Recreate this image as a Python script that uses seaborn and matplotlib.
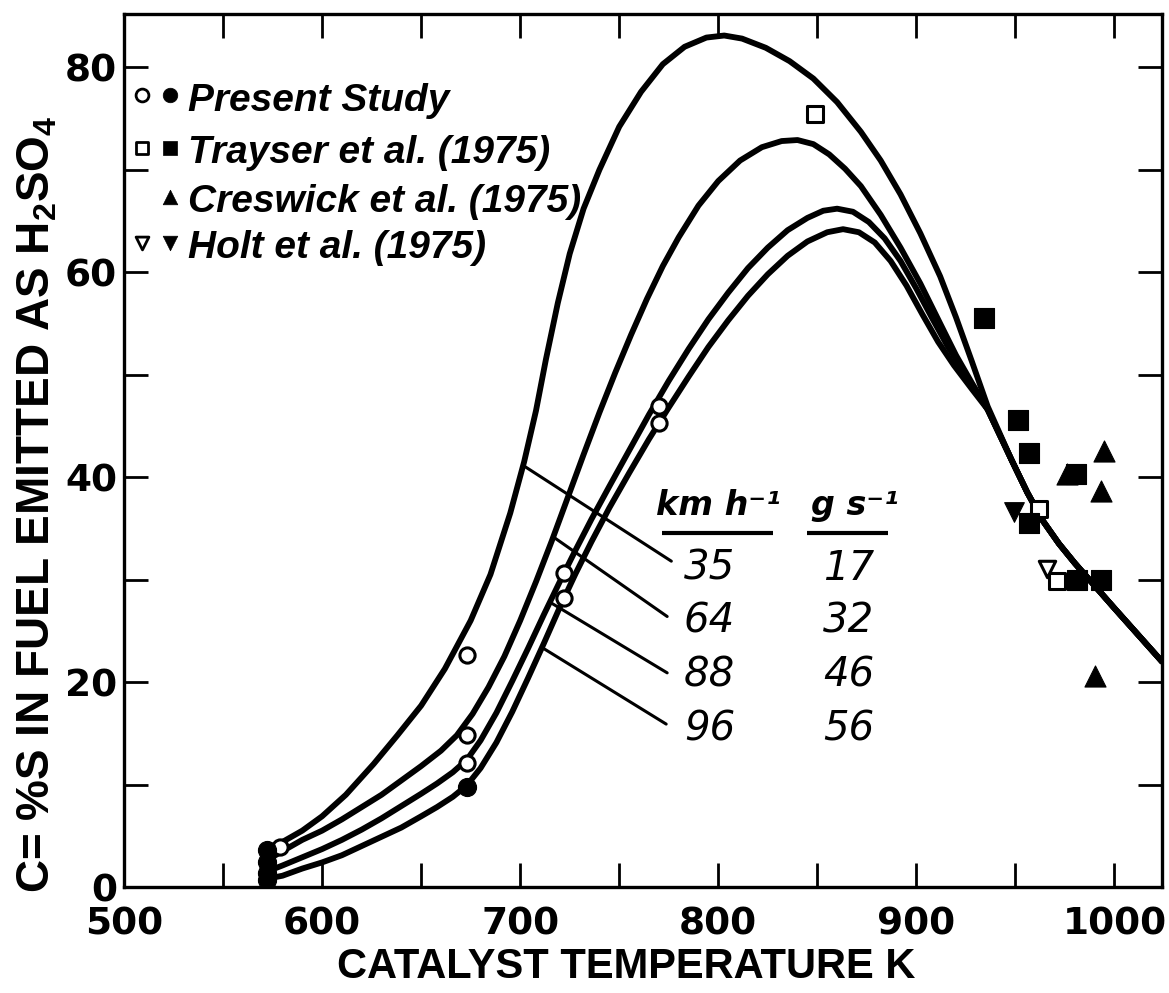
import numpy as np
import pandas as pd
import matplotlib
matplotlib.use("Agg")
import matplotlib.pyplot as plt
import seaborn as sns

# ---------------- data ----------------
# model curves (catalyst temperature K, % S emitted as H2SO4)
T_35 = [572, 580, 590, 600, 612, 626, 638, 650, 662, 675, 685, 695, 702, 708, 713, 719, 725, 732, 740, 750,
        761, 772, 783, 794, 803, 812, 824, 836, 848, 860, 872, 882, 892, 902, 912, 920, 928, 936]
C_35 = [3.5, 4.4, 5.5, 6.9, 9.0, 12.0, 14.8, 17.7, 21.3, 26.0, 30.5, 36.5, 41.5, 46.5, 51.5, 57.0, 61.8, 66.2, 70.0, 74.2,
        77.6, 80.3, 82.0, 82.9, 83.1, 82.8, 81.9, 80.6, 78.9, 76.6, 73.7, 70.9, 67.6, 63.8, 59.6, 55.6, 51.3, 46.9]
T_64 = [572, 580, 590, 600, 610, 620, 630, 640, 650, 660, 668, 676, 684, 692, 700, 708, 716, 724, 732, 740, 748,
        756, 764, 772, 780, 790, 800, 811, 822, 832, 840, 848, 856, 864, 872, 882, 892, 902, 912, 920, 928, 936]
C_64 = [2.6, 3.5, 4.6, 5.5, 6.6, 7.8, 9.0, 10.4, 11.8, 13.3, 14.8, 16.9, 19.5, 22.5, 26.0, 29.8, 33.8, 38.0, 42.2, 46.3, 50.2,
        53.9, 57.4, 60.6, 63.4, 66.5, 68.9, 70.9, 72.2, 72.8, 72.9, 72.5, 71.5, 70.1, 68.4, 65.6, 62.4, 58.9, 55.0, 51.9, 49.2, 46.6]
T_88 = [572, 580, 590, 600, 610, 620, 630, 640, 650, 658, 666, 673, 680, 688, 696, 704, 712, 720, 728, 736, 745,
        755, 765, 775, 785, 795, 805, 815, 825, 835, 845, 853, 860, 868, 876, 884, 892, 900, 908, 916, 926, 936]
C_88 = [1.5, 2.1, 2.9, 3.7, 4.6, 5.6, 6.7, 7.9, 9.1, 10.1, 11.2, 12.4, 14.3, 17.0, 20.1, 23.3, 26.6, 29.8, 32.9, 35.9, 39.1,
        42.6, 46.1, 49.4, 52.5, 55.4, 58.0, 60.4, 62.4, 64.1, 65.3, 66.0, 66.2, 65.9, 64.9, 63.3, 61.1, 58.4, 55.5, 52.7, 49.7, 46.6]
T_96 = [572, 580, 590, 600, 610, 620, 630, 640, 650, 658, 666, 673, 680, 688, 696, 704, 712, 720, 728, 736, 745,
        755, 765, 775, 785, 795, 805, 815, 825, 835, 845, 855, 863, 871, 879, 887, 895, 903, 911, 919, 928, 936]
C_96 = [0.8, 1.1, 1.8, 2.4, 3.1, 4.0, 4.9, 5.8, 6.9, 7.8, 8.8, 9.9, 11.6, 14.1, 17.1, 20.4, 23.8, 27.3, 30.6, 33.7, 37.0,
        40.4, 43.7, 46.8, 49.8, 52.7, 55.3, 57.7, 59.8, 61.6, 63.0, 63.9, 64.2, 63.9, 62.9, 61.1, 58.7, 55.9, 53.2, 50.9, 48.6, 46.6]
# common high-temperature branch
TAIL_T = [948, 956, 964, 972, 980, 990, 1000, 1012, 1024]
TAIL_C = [41.7, 38.5, 35.7, 33.5, 31.6, 29.4, 27.2, 24.6, 22.0]

SPEED_KMH = ["35", "64", "88", "96"]
FLOW_GS = ["17", "32", "46", "56"]

# measured points
PS_OPEN_T = [579, 673, 673, 673, 722, 722, 770, 770]
PS_OPEN_C = [3.9, 22.6, 14.8, 12.1, 30.6, 28.2, 46.9, 45.3]
PS_FILL_T = [572, 572, 572, 572, 673]
PS_FILL_C = [3.6, 2.4, 1.4, 0.7, 9.8]
TR_OPEN_T = [849, 962, 971]
TR_OPEN_C = [75.4, 36.9, 29.9]
TR_FILL_T = [934, 951.5, 957, 957, 980.5, 981, 993]
TR_FILL_C = [55.5, 45.6, 42.4, 35.5, 40.3, 30.0, 30.0]
CR_FILL_T = [976, 994.5, 993, 990]
CR_FILL_C = [40.3, 42.6, 38.6, 20.6]
HO_OPEN_T = [966]
HO_OPEN_C = [31.0]
HO_FILL_T = [949.5]
HO_FILL_C = [36.6]

LEGEND_LABELS = ["Present Study", "Trayser et al. (1975)", "Creswick et al. (1975)", "Holt et al. (1975)"]

# ---------------- style ----------------
sns.set_theme(style="ticks")
plt.rcParams["font.family"] = ["DejaVu Sans"]
plt.rcParams["text.color"] = "black"
plt.rcParams["axes.labelcolor"] = "black"
plt.rcParams["mathtext.fontset"] = "custom"
plt.rcParams["mathtext.rm"] = "Liberation Sans:bold"
plt.rcParams["mathtext.default"] = "rm"

LIB = ["Liberation Sans", "DejaVu Sans"]

fig = plt.figure(figsize=(11.69, 9.93), dpi=100)
ax = fig.add_axes([124 / 1169, 1 - 887 / 993, 1038 / 1169, 873 / 993])

# ---------------- curves ----------------
curves = {"35": (T_35, C_35), "64": (T_64, C_64), "88": (T_88, C_88), "96": (T_96, C_96)}
frames = []
for name, (tt, cc) in curves.items():
    frames.append(pd.DataFrame({"T": list(tt) + TAIL_T, "C": list(cc) + TAIL_C, "curve": name}))
df = pd.concat(frames, ignore_index=True)
sns.lineplot(data=df, x="T", y="C", units="curve", estimator=None, sort=False,
             color="black", lw=4.2, ax=ax, legend=False, solid_capstyle="round",
             solid_joinstyle="round")

# ---------------- points ----------------
def pts(t, c, marker, s, filled, lw=2.2):
    sns.scatterplot(x=t, y=c, marker=marker, s=s, ax=ax, zorder=5, legend=False,
                    facecolor="black" if filled else "white", edgecolor="black",
                    linewidth=lw if not filled else 0.8)

pts(PS_OPEN_T, PS_OPEN_C, "o", 120, False)
pts(PS_FILL_T, PS_FILL_C, "o", 170, True)
pts(TR_OPEN_T, TR_OPEN_C, "s", 130, False)
pts(TR_FILL_T, TR_FILL_C, "s", 190, True)
pts(CR_FILL_T, CR_FILL_C, "^", 230, True)
pts(HO_OPEN_T, HO_OPEN_C, "v", 140, False)
pts(HO_FILL_T, HO_FILL_C, "v", 200, True)

# ---------------- leader lines + table ----------------
LEADER_START_T = {"35": 701.5, "64": 716.7, "88": 715.0, "96": 711.0}
LEADER_END = {"35": (776.3, 31.8), "64": (774.2, 26.4), "88": (774.2, 20.9), "96": (773.7, 15.9)}
for name, (tt, cc) in curves.items():
    x0 = LEADER_START_T[name]
    y0 = np.interp(x0, tt, cc)
    x1, y1 = LEADER_END[name]
    ax.plot([x0, x1], [y0, y1], color="black", lw=2.2, solid_capstyle="round")

TABLE_COL_T = [795.5, 866.0]
TABLE_ROW_C = [30.0, 24.8, 19.6, 14.3]
num_font = dict(family="DejaVu Sans", style="italic", weight="medium", size=29, color="black")
for i in range(4):
    ax.text(TABLE_COL_T[0], TABLE_ROW_C[i], SPEED_KMH[i], ha="center", va="baseline", **num_font)
    ax.text(TABLE_COL_T[1], TABLE_ROW_C[i], FLOW_GS[i], ha="center", va="baseline", **num_font)
ax.text(800, 36.3, "km h\u207b\u00b9", ha="center", va="baseline", family="DejaVu Sans",
        style="italic", weight="bold", size=24, color="black")
ax.text(869, 36.3, "g s\u207b\u00b9", ha="center", va="baseline", family="DejaVu Sans",
        style="italic", weight="bold", size=24, color="black")
ax.hlines(34.5, 771.7, 827.8, color="black", lw=3)
ax.hlines(34.5, 845.0, 885.5, color="black", lw=3)

# ---------------- key (upper left) ----------------
key_rows_y = [0.907, 0.8465, 0.790, 0.7377]
key_base_y = [0.889, 0.829, 0.773, 0.721]
key_markers = [("o", "o"), ("s", "s"), (None, "^"), ("v", "v")]
for (mo, mf), ym in zip(key_markers, key_rows_y):
    if mo:
        ax.scatter([0.017], [ym], marker=mo, s=85, facecolor="white", edgecolor="black",
                   linewidth=2, transform=ax.transAxes, clip_on=False, zorder=6)
    ax.scatter([0.044], [ym], marker=mf, s=110, facecolor="black", edgecolor="black",
               linewidth=0.5, transform=ax.transAxes, clip_on=False, zorder=6)
for lab, yb in zip(LEGEND_LABELS, key_base_y):
    ax.text(0.062, yb, lab, transform=ax.transAxes, ha="left", va="baseline",
            family=LIB, weight="bold", style="italic", size=28, color="black")

# ---------------- axes ----------------
ax.set_xlim(500, 1024)
ax.set_ylim(0, 85.2)
ax.set_xticks([500, 600, 700, 800, 900, 1000])
ax.set_xticks([550, 650, 750, 850, 950], minor=True)
ax.set_yticks([0, 20, 40, 60, 80])
ax.set_yticks([10, 30, 50, 70], minor=True)
ax.tick_params(which="both", direction="in", length=17, width=2, top=True, right=True,
               colors="black")
ax.tick_params(axis="x", which="major", pad=14)
ax.tick_params(axis="y", which="major", pad=5)
for lab in ax.get_xticklabels() + ax.get_yticklabels():
    lab.set_fontfamily("DejaVu Sans")
    lab.set_fontweight("bold")
    lab.set_fontsize(27)
for sp in ax.spines.values():
    sp.set_linewidth(2.4)
    sp.set_color("black")
ax.grid(False)

ax.set_xlabel("CATALYST TEMPERATURE K", family=LIB, weight="bold", size=30, va="center")
ax.xaxis.set_label_coords(0.4836, -0.092)
ax.set_ylabel(r"C= %S IN FUEL EMITTED AS H$_2$SO$_4$", family=LIB,
              weight="bold", size=33, va="center")
ax.yaxis.set_label_coords(-0.083, 0.439)

fig.savefig("out.png", dpi=100)
